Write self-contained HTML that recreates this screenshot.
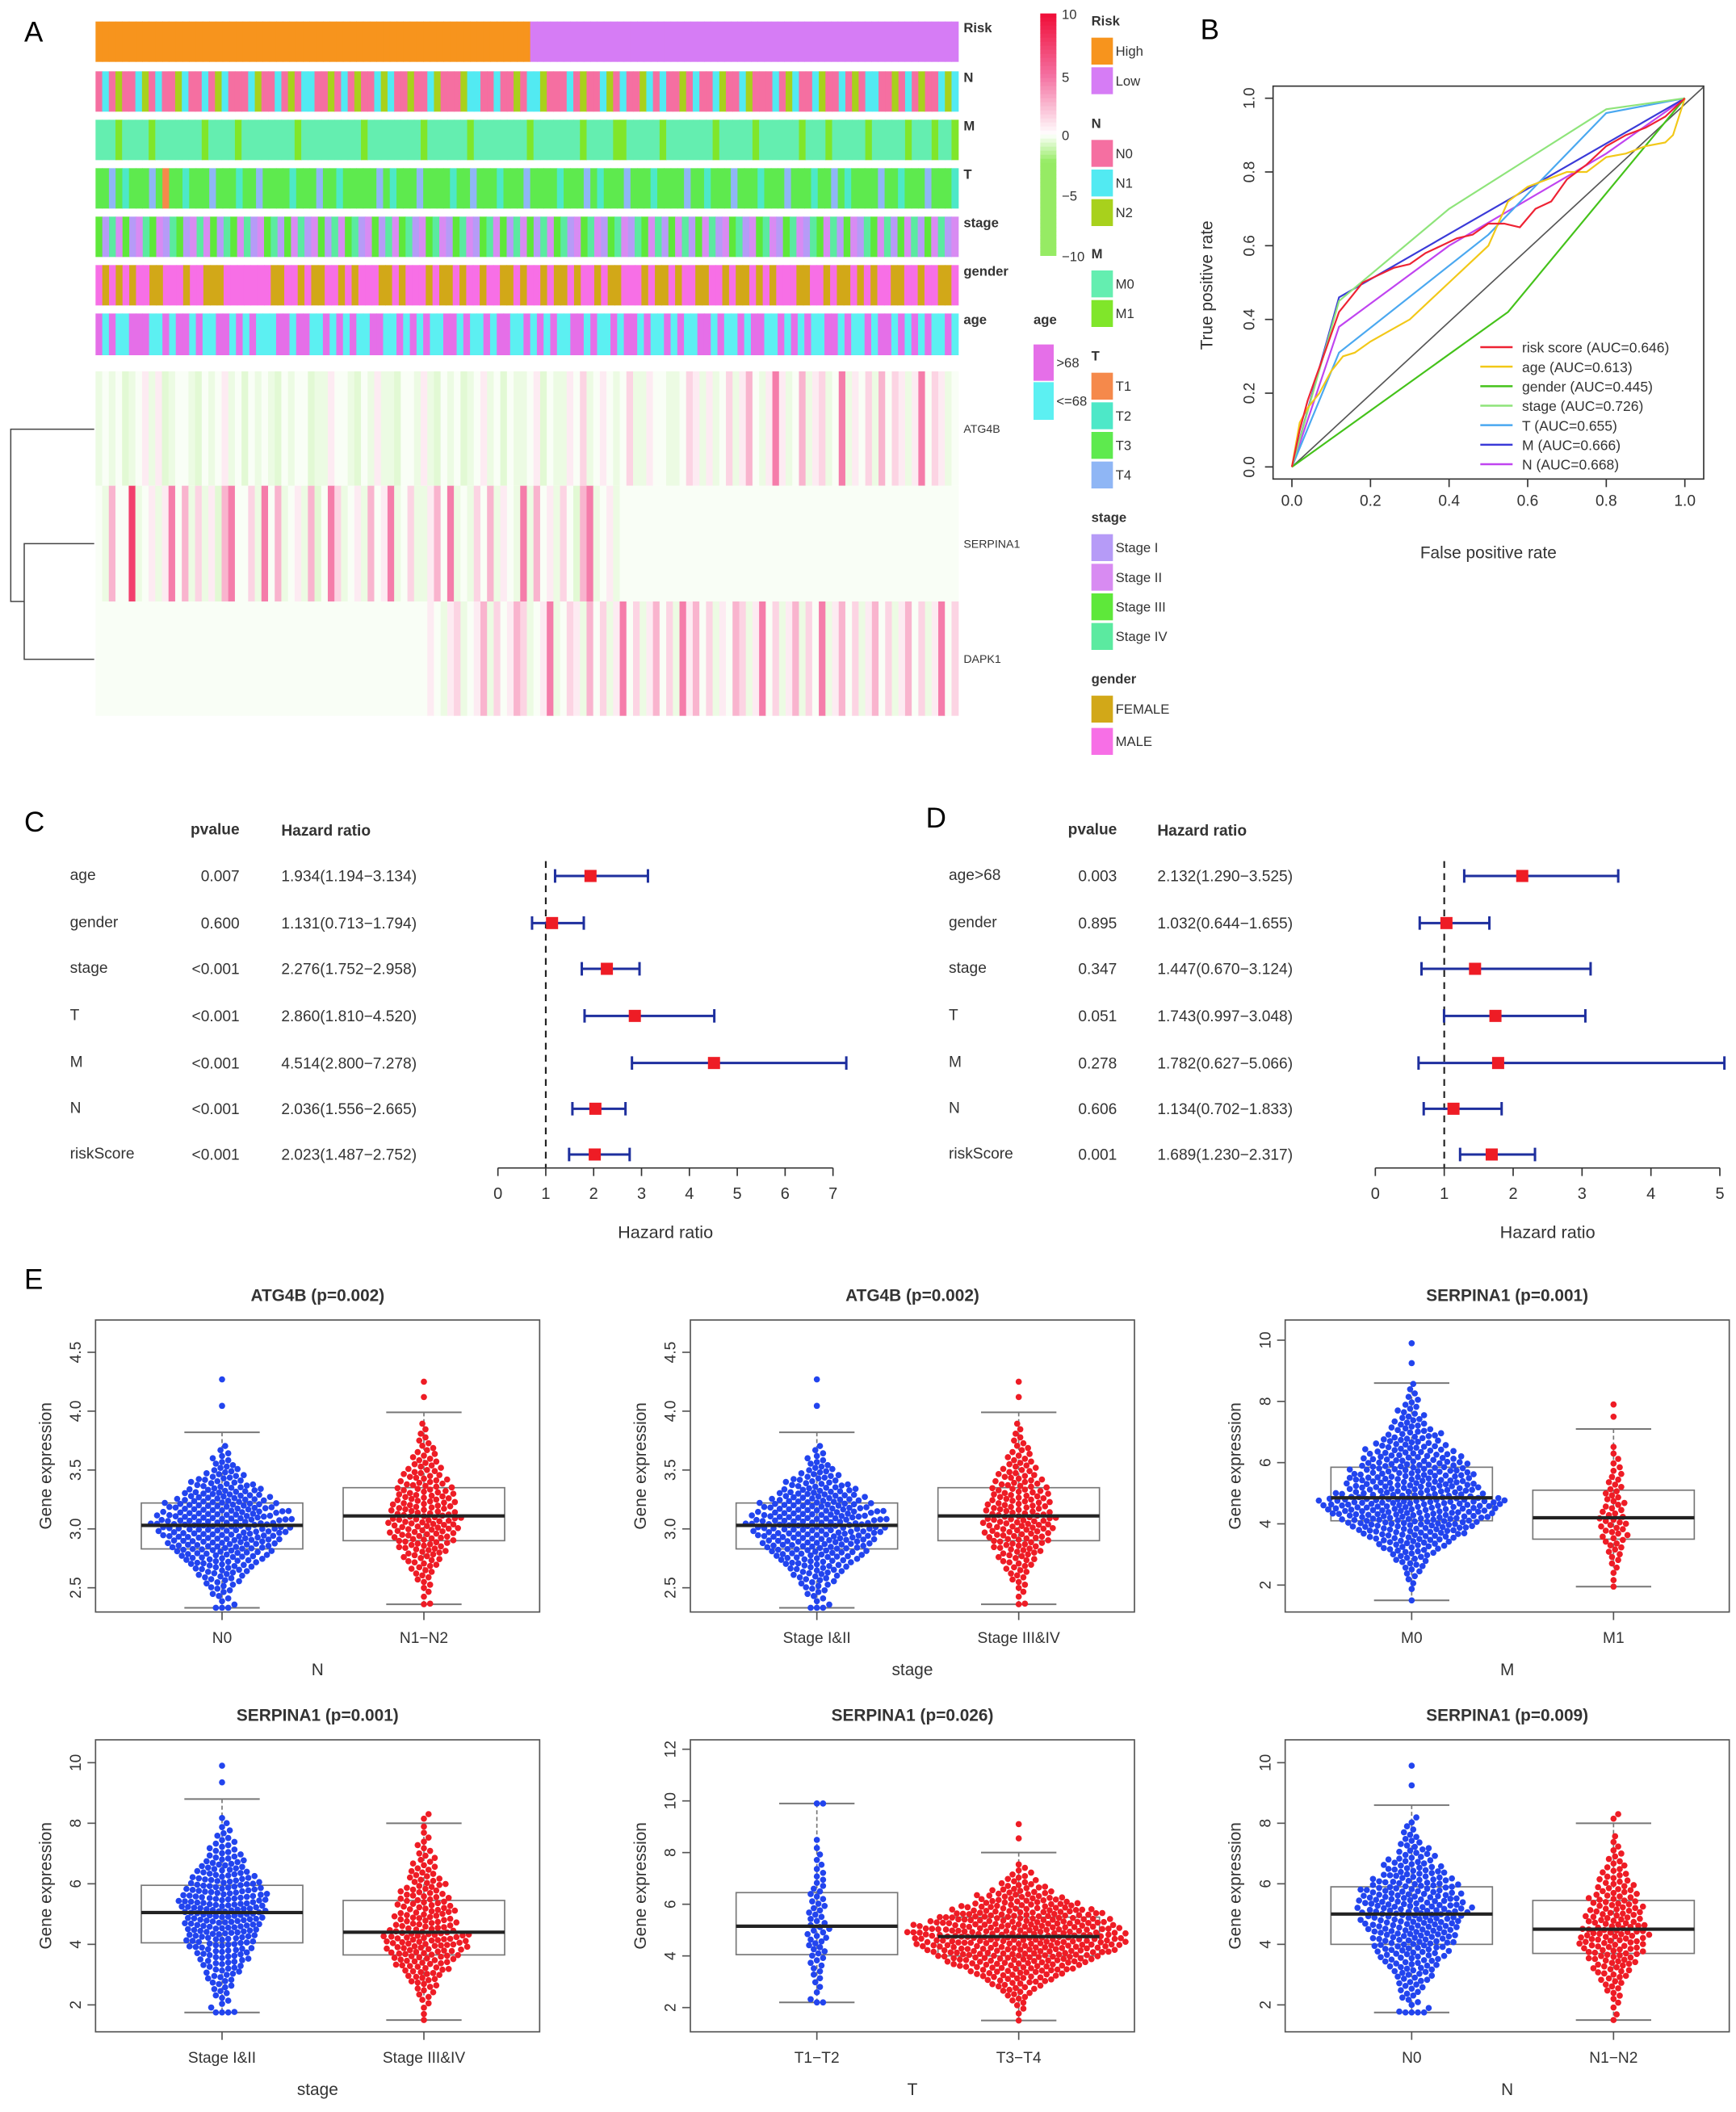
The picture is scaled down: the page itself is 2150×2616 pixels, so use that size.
<!DOCTYPE html>
<html><head><meta charset="utf-8">
<style>
html,body{margin:0;padding:0;background:#fff;}
svg{display:block;font-family:"Liberation Sans",Arial,sans-serif;}
</style></head>
<body>
<svg id="fig" width="2150" height="2616" viewBox="0 0 1290 1569.6" xmlns="http://www.w3.org/2000/svg">
<rect width="1290" height="1570" fill="#fff"/>
<g id="A"></g>
<g id="B"></g>
<g id="C"></g>
<g id="D"></g>
<g id="E"></g>
</svg>
<script>
// ---------- DATA ----------
const annRisk = "aaaaaaaaaaaaaaaaaaaaaaaaaaaaaaaaaaaaaaaaaaaaaaaaaaaaaaaaaaaaaaaaabbbbbbbbbbbbbbbbbbbbbbbbbbbbbbbbbbbbbbbbbbbbbbbbbbbbbbbbbbbbbbbb";
const annN = "abacaabcabaacbaabacbaaabcaabacabbaacabacaabcbaacaabcaaacbbaabaacabbcaaabacaabcabaacbabaacabaabcaabcaaabacbaabcaabacabbaacabacaabcb";
const annM = "aaabaaaabaaaaaaabaaaabaaaaaaaabaaaaaaaaabaaaaaaaabaaaaaabaaaaaaaabaaaaaaabaaaabbaaaaabaaaaaaabaaaaabaaaaaabaaabaaaaabaaaaabaaabaab";
const annT = "ccdcbcccdcaccbcccdcccbccdccccbcccdccbcccccdcbcccdccccbccdcccbcccdccccbcccdcbcccdcccbccccdccbcccdcccbcccdcccbccdcbccccdccbcccdcccb";
const annStage = "cadbcabdcbadcabdbcadcbdabcdacbdabcadbcdabcadbcdabcdbacdbacdbcadbcadbcdabcdbacdbadcbdacbdacbdabcdabcdbacdbadcbdacbadcbdacbdacbdab";
const annGender = "babababbaabbbabbaaabbbbbbbaabbabaabbababbbaababbbabaababbabbaababbabaababbabaabbbabaababbaabbabaabababbbaabbabaabababbaabbabbaab";
const annAge = "ababbaaabbabaababbaabababbbaabaabbabababbaabbabababbaababbabaabbabababbaababbabaababbababbaababbabaabbabababbaababbabaababababbab";
const exATG4B = "3434234535234432434534243432434423354432435332443532434234534243345243354634543463354433465353463574358534735634835463746535846534";
const exSERPINA1 = "4374493453584736352784463847345372486345374583463357483436473543837453642783453444444444444444444444444444444444444444444444444444";
const exDAPK1 = "4444444444444444444444444444444444444444444444444454356345736457634583465374635846357463857463547635846357364835746357463574635846";
// Panel B ROC curves
const rocNames = ["risk score (AUC=0.646)","age (AUC=0.613)","gender (AUC=0.445)","stage (AUC=0.726)","T (AUC=0.655)","M (AUC=0.666)","N (AUC=0.668)"];
const rocColors = ["#EE2233","#F2C818","#44C21A","#8EE47A","#4AA8F0","#3A3AD8","#C044F0"];
const rocFPR = [
 [0,.02,.04,.06,.08,.1,.12,.15,.18,.22,.26,.3,.34,.38,.42,.46,.5,.54,.58,.62,.66,.7,.75,.8,.85,.9,.95,1],
 [0,.02,.04,.07,.1,.13,.16,.2,.25,.3,.35,.4,.45,.5,.55,.6,.65,.7,.75,.8,.85,.9,.95,.97,1],
 [0,.55,1],
 [0,.12,.4,.8,1],
 [0,.12,.5,.8,1],
 [0,.12,1],
 [0,.12,.4,.8,1]];
const rocTPR = [
 [0,.1,.18,.24,.3,.36,.42,.46,.5,.52,.54,.55,.58,.6,.62,.63,.66,.66,.65,.7,.72,.78,.82,.87,.9,.92,.95,1],
 [0,.12,.16,.2,.26,.3,.31,.34,.37,.4,.45,.5,.55,.6,.72,.76,.78,.8,.8,.84,.85,.87,.88,.9,1],
 [0,.42,1],
 [0,.45,.7,.97,1],
 [0,.31,.63,.96,1],
 [0,.46,1],
 [0,.38,.6,.85,1]];
// Panel C / D forest data
const fVars = ["age","gender","stage","T","M","N","riskScore"];
const cP = ["0.007","0.600","<0.001","<0.001","<0.001","<0.001","<0.001"];
const cHR = [1.934,1.131,2.276,2.860,4.514,2.036,2.023];
const cLo = [1.194,0.713,1.752,1.810,2.800,1.556,1.487];
const cHi = [3.134,1.794,2.958,4.520,7.278,2.665,2.752];
const dVars = ["age>68","gender","stage","T","M","N","riskScore"];
const dP = ["0.003","0.895","0.347","0.051","0.278","0.606","0.001"];
const dHR = [2.132,1.032,1.447,1.743,1.782,1.134,1.689];
const dLo = [1.290,0.644,0.670,0.997,0.627,0.702,1.230];
const dHi = [3.525,1.655,3.124,3.048,5.066,1.833,2.317];
// Panel E box stats per group: [lowWhisker, q1, median, q3, highWhisker, max, n]
const eTitles = ["ATG4B (p=0.002)","ATG4B (p=0.002)","SERPINA1 (p=0.001)","SERPINA1 (p=0.001)","SERPINA1 (p=0.026)","SERPINA1 (p=0.009)"];
const eGroups = [["N0","N1−N2"],["Stage I&II","Stage III&IV"],["M0","M1"],["Stage I&II","Stage III&IV"],["T1−T2","T3−T4"],["N0","N1−N2"]];
const eXTitles = ["N","stage","M","stage","T","N"];
const eStatsA = [[2.33,2.83,3.03,3.22,3.82,4.27,300],[2.33,2.83,3.03,3.22,3.82,4.27,300],[1.5,4.1,4.85,5.85,8.6,9.9,420],[1.75,4.05,5.05,5.95,8.8,9.9,260],[2.2,4.05,5.15,6.45,9.9,9.9,60],[1.75,4.0,5.0,5.9,8.6,9.9,300]];
const eStatsB = [[2.36,2.9,3.11,3.35,3.99,4.25,180],[2.36,2.9,3.11,3.35,3.99,4.25,180],[1.95,3.5,4.2,5.1,7.1,7.9,60],[1.5,3.65,4.4,5.45,8.0,8.3,200],[1.5,4.0,4.75,5.5,8.0,9.1,420],[1.5,3.7,4.5,5.45,8.0,8.3,170]];
const eTicks = [[2.5,3.0,3.5,4.0,4.5],[2.5,3.0,3.5,4.0,4.5],[2,4,6,8,10],[2,4,6,8,10],[2,4,6,8,10,12],[2,4,6,8,10]];
const eTickLabels = [["2.5","3.0","3.5","4.0","4.5"],["2.5","3.0","3.5","4.0","4.5"],["2","4","6","8","10"],["2","4","6","8","10"],["2","4","6","8","10","12"],["2","4","6","8","10"]];

// ---------- HELPERS ----------
const NS="http://www.w3.org/2000/svg";
function mk(parent,tag,attrs,txt){const e=document.createElementNS(NS,tag);for(const k in attrs)e.setAttribute(k,attrs[k]);if(txt!==undefined)e.textContent=txt;parent.appendChild(e);return e;}
function txt(parent,x,y,s,size,opts){opts=opts||{};const t=mk(parent,"text",{x:x,y:y,"font-size":size,fill:opts.fill||"#333","text-anchor":opts.anchor||"start","font-weight":opts.bold?"bold":"normal"},s);if(opts.rot)t.setAttribute("transform","rotate("+opts.rot+" "+x+" "+y+")");


return t;}

// ---------- PANEL A ----------
const A=document.getElementById("A");
txt(A,18,31,"A",21,{fill:"#000",name:"panel-letter-a"});
const X0=71,X1=712;
const catCols={
 risk:{a:"#F7941D",b:"#D67CF5"},
 N:{a:"#F56FA1",b:"#52EAF2",c:"#A8D11C"},
 M:{a:"#64EEB0",b:"#80E62A"},
 T:{a:"#F5894B",b:"#4DE8C8",c:"#5EEA4E",d:"#8FB6F5"},
 stage:{a:"#B69BF7",b:"#D88BF2",c:"#5EE83A",d:"#5BEAA0"},
 gender:{a:"#D2A818",b:"#F76FE6"},
 age:{a:"#E56FE8",b:"#5CF0F2"}};
const annRows=[["Risk",annRisk,catCols.risk,16,46],["N",annN,catCols.N,53,83],["M",annM,catCols.M,89,119],["T",annT,catCols.T,125,155],["stage",annStage,catCols.stage,161,191],["gender",annGender,catCols.gender,197,227],["age",annAge,catCols.age,233,264]];
annRows.forEach(r=>{
 const g=mk(A,"g",{});
 
 
 const n=r[1].length,w=(X1-X0)/n;
 for(let i=0;i<n;i++){const c=mk(g,"rect",{x:X0+i*w,y:r[3],width:w+0.4,height:r[4]-r[3],fill:r[2][r[1][i]]});
  
  }
 txt(A,716,r[3]+8,r[0],10,{bold:true,name:'annotation-label'});
});
const exVal={"0":-3,"1":-2,"2":-1.4,"3":-0.9,"4":-0.3,"5":0.7,"6":1.5,"7":2.6,"8":4.5,"9":7.5};
function lerp(a,b,t){return Math.round(a+(b-a)*t);}
function exColor(v){
 if(v>=0){ if(v<=5){const t=v/5;return `rgb(${lerp(255,244,t)},${lerp(255,111,t)},${lerp(255,160,t)})`;}
  const t=(v-5)/5;return `rgb(${lerp(244,240,t)},${lerp(111,16,t)},${lerp(160,58,t)})`;}
 const t=Math.min(1,-v/5);return `rgb(${lerp(255,150,t)},${lerp(255,235,t)},${lerp(255,100,t)})`;}
const exRows=[["ATG4B",exATG4B,276,361],["SERPINA1",exSERPINA1,361,447],["DAPK1",exDAPK1,447,532]];
exRows.forEach(r=>{
 const g=mk(A,"g",{});
 
 
 const n=r[1].length,w=(X1-X0)/n;
 for(let i=0;i<n;i++){const c=mk(g,"rect",{x:X0+i*w,y:r[2],width:w+0.4,height:r[3]-r[2],fill:exColor(exVal[r[1][i]])});
  
  }
 txt(A,716,(r[2]+r[3])/2+3,r[0],8.5,{name:'gene-label'});
});
const dg=mk(A,"g",{stroke:"#444","stroke-width":0.9,fill:"none"});


mk(dg,"path",{d:"M70 404 H18 V490 H70 M18 447 H8 V319 H70"});
const cb=mk(A,"g",{});


for(let i=0;i<60;i++){const v=10-i*20/59;const c=mk(cb,"rect",{x:773,y:10+i*3,width:12,height:3.2,fill:v<0?exColor(v*2.2):exColor(v)});
 
 }
[["10",14],["5",61],["0",104],["−5",149],["−10",194]].forEach(t=>txt(A,789,t[1],t[0],10,{name:'color-scale-tick'}));
function legHead(x,y,s){txt(A,x,y,s,10,{bold:true,name:'legend-title'});}
function legItem(x,y0,y1,w,col,s){const r=mk(A,"rect",{x:x,y:y0,width:w,height:y1-y0,fill:col});
 
 
 txt(A,x+w+2,(y0+y1)/2+3.5,s,10,{name:'legend-entry'});}
legHead(811,19,"Risk");legItem(811,28,48,16,catCols.risk.a,"High");legItem(811,50,70,16,catCols.risk.b,"Low");
legHead(811,95,"N");legItem(811,104,124,16,catCols.N.a,"N0");legItem(811,126,146,16,catCols.N.b,"N1");legItem(811,148,168,16,catCols.N.c,"N2");
legHead(811,192,"M");legItem(811,201,221,16,catCols.M.a,"M0");legItem(811,223,243,16,catCols.M.b,"M1");
legHead(768,241,"age");legItem(768,256,283,15,catCols.age.a,">68");legItem(768,284,312,15,catCols.age.b,"<=68");
legHead(811,268,"T");legItem(811,277,297,16,catCols.T.a,"T1");legItem(811,299,319,16,catCols.T.b,"T2");legItem(811,321,341,16,catCols.T.c,"T3");legItem(811,343,363,16,catCols.T.d,"T4");
legHead(811,388,"stage");legItem(811,397,417,16,catCols.stage.a,"Stage I");legItem(811,419,439,16,catCols.stage.b,"Stage II");legItem(811,441,461,16,catCols.stage.c,"Stage III");legItem(811,463,483,16,catCols.stage.d,"Stage IV");
legHead(811,508,"gender");legItem(811,517,537,16,catCols.gender.a,"FEMALE");legItem(811,541,561,16,catCols.gender.b,"MALE");

// ---------- PANEL B ----------
const B=document.getElementById("B");
txt(B,892,29,"B",21,{fill:"#000",name:"panel-letter-b"});
const bx=v=>960+v*292, by=v=>347-v*274;
const fr=mk(B,"rect",{x:946,y:64,width:320,height:292,fill:"none",stroke:"#333","stroke-width":1});

const diag=mk(B,"line",{x1:bx(0),y1:by(0),x2:bx(1.047),y2:by(1.03),stroke:"#555","stroke-width":1});

[0,.2,.4,.6,.8,1].forEach(v=>{
 mk(B,"line",{x1:bx(v),y1:356,x2:bx(v),y2:362,stroke:"#333"});
 txt(B,bx(v),376,v.toFixed(1),11.5,{anchor:"middle",name:"x-tick-label"});
 mk(B,"line",{x1:946,y1:by(v),x2:940,y2:by(v),stroke:"#333"});
 txt(B,932,by(v),v.toFixed(1),11.5,{anchor:"middle",rot:-90,name:"y-tick-label"});
});
txt(B,1106,415,"False positive rate",12.5,{anchor:"middle",name:"x-axis-title"});
txt(B,901,212,"True positive rate",12.5,{anchor:"middle",rot:-90,name:"y-axis-title"});
for(let k=rocNames.length-1;k>=0;k--){
 const d=rocFPR[k].map((f,i)=>(i?"L":"M")+bx(f).toFixed(1)+" "+by(rocTPR[k][i]).toFixed(1)).join(" ");
 const p=mk(B,"path",{d:d,fill:"none",stroke:rocColors[k],"stroke-width":1.3});
 
 
}
rocNames.forEach((n,k)=>{const y=258+k*14.5;
 const l=mk(B,"line",{x1:1100,y1:y,x2:1124,y2:y,stroke:rocColors[k],"stroke-width":1.5});
 
 txt(B,1131,y+4,n,10.5,{name:"legend-entry"});});

// ---------- PANELS C / D ----------
function forest(G,letter,lx,ly,vars,ps,hr,lo,hi,o){
 txt(G,lx,ly,letter,21,{fill:"#000",name:"panel-letter"});
 txt(G,o.pX,620,"pvalue",11.5,{anchor:"end",bold:true,name:"pvalue-header"});
 txt(G,o.hX,621,"Hazard ratio",11.5,{bold:true,name:"hr-header"});
 const sx=v=>o.x0+v*o.k;
 const rows=[651,686,720,755,790,824,858];
 const dl=mk(G,"line",{x1:sx(1),y1:640,x2:sx(1),y2:868,stroke:"#222","stroke-width":1.3,"stroke-dasharray":"5,4"});
 
 vars.forEach((v,i)=>{const y=rows[i];
  txt(G,o.vX,y+3,v,11.5,{name:"variable-label"});
  txt(G,o.pX,y+4,ps[i],11.5,{anchor:"end",name:"pvalue"});
  txt(G,o.hX,y+4,hr[i].toFixed(3)+"("+lo[i].toFixed(3)+"−"+hi[i].toFixed(3)+")",11.5,{name:"hazard-ratio-text"});
  const ci=mk(G,"path",{d:`M${sx(lo[i])} ${y} H${sx(hi[i])} M${sx(lo[i])} ${y-5} V${y+5} M${sx(hi[i])} ${y-5} V${y+5}`,stroke:"#1E2F9E","stroke-width":1.8,fill:"none"});
  
  const sq=mk(G,"rect",{x:sx(hr[i])-4.5,y:y-4.5,width:9,height:9,fill:"#EE1C25"});
  
 });
 const ax=mk(G,"line",{x1:sx(0),y1:868,x2:sx(o.max),y2:868,stroke:"#333"});
 
 for(let t=0;t<=o.max;t++){mk(G,"line",{x1:sx(t),y1:868,x2:sx(t),y2:874,stroke:"#333"});
  txt(G,sx(t),891,String(t),12,{anchor:"middle",name:"x-tick-label"});}
 txt(G,(sx(0)+sx(o.max))/2,920,"Hazard ratio",13,{anchor:"middle",name:"x-axis-title"});
}
forest(document.getElementById("C"),"C",18,618,fVars,cP,cHR,cLo,cHi,{vX:52,pX:178,hX:209,x0:370,k:35.57,max:7});
forest(document.getElementById("D"),"D",688,615,dVars,dP,dHR,dLo,dHi,{vX:705,pX:830,hX:860,x0:1022,k:51.2,max:5});

// ---------- PANEL E ----------
const E=document.getElementById("E");
txt(E,18,958,"E",21,{fill:"#000",name:"panel-letter-e"});
const pLeft=[71,513,955,71,513,955];
const pTop=[981,981,981,1293,1293,1293], pBot=[1198,1198,1198,1510,1510,1510];
const yCal=[[4.5,1005,2.5,1180],[4.5,1005,2.5,1180],[10,996,2,1178],[10,1310,2,1490],[12,1300,2,1492],[10,1310,2,1490]];
function zq(p){return 4.91*(Math.pow(p,0.14)-Math.pow(1-p,0.14));}
function genVals(s){const n=s[6],out=[];
 for(let i=0;i<n;i++){const p=(i+0.5)/n;const z=zq(p);
  let v=z<0? s[2]+z*(s[2]-s[1])/0.6745 : s[2]+z*(s[3]-s[2])/0.6745;
  v=Math.max(s[0],Math.min(s[4],v));out.push(v);}
 out[0]=s[0];out[n-1]=s[5];if(n>3)out[n-2]=Math.min(s[5],(s[4]+s[5])/2);return out;}
function swarm(vals,ys,r){const placed=[];const d=2*r;const pts=[];
 vals.slice().sort((a,b)=>a-b).forEach(v=>{const y=ys(v);let best=0;
  for(let k=0;k<400;k++){const off=(k%2?1:-1)*Math.ceil(k/2)*r*0.5;let ok=true;
   for(let q=0;q<placed.length;q++){const p=placed[q];if(Math.abs(p[1]-y)>=d)continue;if(Math.hypot(p[0]-off,p[1]-y)<d*0.95){ok=false;break;}}
   if(ok){best=off;break;}}
  placed.push([best,y]);pts.push([best,y]);});
 return pts;}
for(let p=0;p<6;p++){
 const G=mk(E,"g",{});
 
 
 const L=pLeft[p],R=L+330,T=pTop[p],Bt=pBot[p];
 const c=yCal[p];const ys=v=>c[1]+(v-c[0])*(c[3]-c[1])/(c[2]-c[0]);
 txt(G,L+165,T-14,eTitles[p],12.5,{anchor:"middle",bold:true,name:"plot-title"});
 const fr=mk(G,"rect",{x:L,y:T,width:330,height:Bt-T,fill:"none",stroke:"#555","stroke-width":1});
 
 eTicks[p].forEach((t,i)=>{const y=ys(t);mk(G,"line",{x1:L,y1:y,x2:L-6,y2:y,stroke:"#555"});
  txt(G,L-11,y,eTickLabels[p][i],11.5,{anchor:"middle",rot:-90,name:"y-tick-label"});});
 txt(G,L-33,(T+Bt)/2,"Gene expression",12.5,{anchor:"middle",rot:-90,name:"y-axis-title"});
 txt(G,L+165,Bt+47,eXTitles[p],12.5,{anchor:"middle",name:"x-axis-title"});
 [eStatsA[p],eStatsB[p]].forEach((s,gi)=>{
  const cx=L+(gi?244:94);const col=gi?"#EE1C25":"#2244EE";
  mk(G,"line",{x1:cx,y1:Bt,x2:cx,y2:Bt+6,stroke:"#555"});
  txt(G,cx,Bt+23,eGroups[p][gi],11.5,{anchor:"middle",name:"group-label"});
  const bw=60;
  mk(G,"line",{x1:cx,y1:ys(s[4]),x2:cx,y2:ys(s[0]),stroke:"#777","stroke-dasharray":"3,2"});
  const bx=mk(G,"rect",{x:cx-bw,y:ys(s[3]),width:2*bw,height:ys(s[1])-ys(s[3]),fill:"none",stroke:"#777","stroke-width":1});
  
  [s[0],s[4]].forEach(v=>mk(G,"line",{x1:cx-28,y1:ys(v),x2:cx+28,y2:ys(v),stroke:"#777","stroke-width":1.2}));
  const pts=swarm(genVals(s),ys,2.3);
  pts.forEach(q=>{const d=mk(G,"circle",{cx:cx+q[0],cy:q[1],r:2.3,fill:col});
   
   });
  const md=mk(G,"line",{x1:cx-bw,y1:ys(s[2]),x2:cx+bw,y2:ys(s[2]),stroke:"#222","stroke-width":2.5});
  
 });
}
</script>
</body></html>
